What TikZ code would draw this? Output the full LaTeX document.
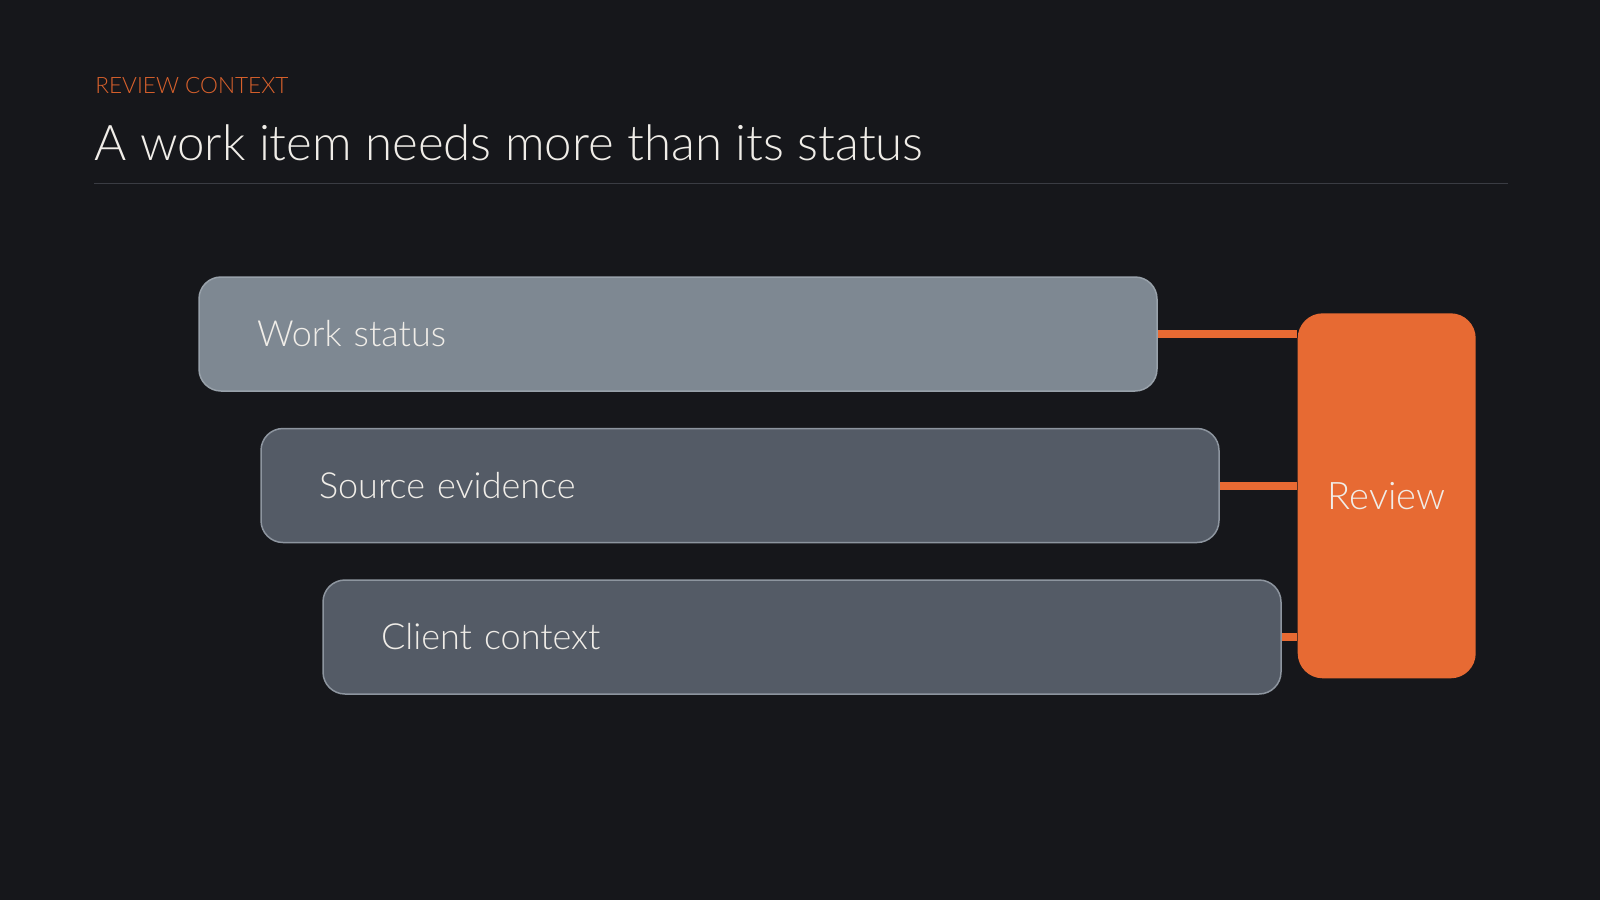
\documentclass[tikz,border=0pt]{standalone}
\usepackage{fontspec}
\setmainfont{Lato Light}
\usetikzlibrary{positioning}
\definecolor{bgdark}{HTML}{16171B}
\definecolor{rulegrey}{HTML}{3A3C43}
\definecolor{accent}{HTML}{E76A33}
\definecolor{kicker}{HTML}{D9612C}
\definecolor{headtext}{HTML}{F0EDE8}
\definecolor{lightfill}{HTML}{7E8892}
\definecolor{lightline}{HTML}{98A1AA}
\definecolor{darkfill}{HTML}{545B66}
\definecolor{darkline}{HTML}{8D959F}
\tikzstyle{panel} = [rectangle, draw=darkline, fill=darkfill, rounded corners=11pt, line width=0.75pt, minimum height=57pt, text width=421pt, inner xsep=29pt, align=left, text=headtext, font=\fontsize{18}{21}\selectfont]
\tikzstyle{hub} = [rectangle, fill=accent, rounded corners=12.5pt, minimum width=89pt, minimum height=182.5pt, text centered, text=headtext, font=\fontsize{19}{23}\selectfont]
\tikzstyle{link} = [line width=4pt, draw=accent]

\begin{document}
\begin{tikzpicture}[x=0.5pt, y=-0.5pt]
        \fill [bgdark] (0,0) rectangle (1600,900);
        \node (kicker) [anchor=base west, text=kicker, inner sep=0pt, font=\fontsize{11.3}{14}\selectfont] at (95,93.3) {REVIEW CONTEXT};
        \node (title) [anchor=base west, text=headtext, inner sep=0pt, font=\fontsize{24.6}{30}\selectfont] at (94,160) {A work item needs more than its status};
        \draw [rulegrey, line width=0.75pt] (94,183.3) -- (1508,183.3);
        \node (status) [panel, fill=lightfill, draw=lightline] at (678,334) {Work status};
        \node (evidence) [panel, below=18pt of status, xshift=31pt] {Source evidence};
        \node (context) [panel, below=18pt of evidence, xshift=31pt] {Client context};
        \node (review) [hub] at (1386.7,495.8) {Review};
        \draw [link] (status.east) -- (status.east -| review.west);
        \draw [link] (evidence.east) -- (evidence.east -| review.west);
        \draw [link] (context.east) -- (context.east -| review.west);
    \end{tikzpicture}
\end{document}
